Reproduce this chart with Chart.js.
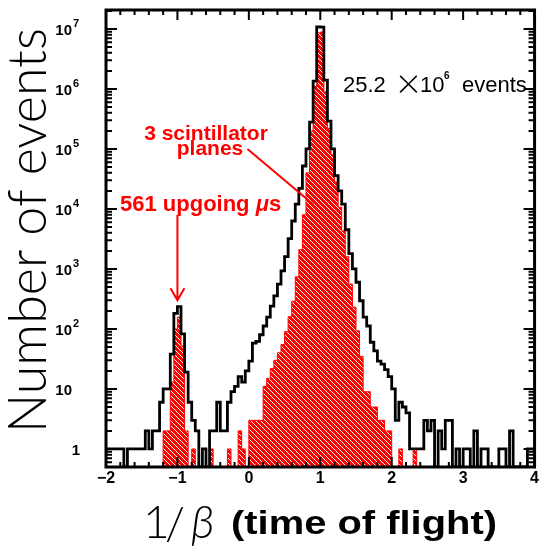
<!DOCTYPE html>
<html>
<head>
<meta charset="utf-8">
<script src="https://cdn.jsdelivr.net/npm/chart.js@4.4.1/dist/chart.umd.min.js"></script>
<style>
  html, body { margin: 0; padding: 0; background: #fff; }
  canvas { display: block; }
</style>
</head>
<body>
<canvas id="chart" width="541" height="547"></canvas>
<script>
// histogram binning of 1/beta
const BIN_LO = -2;
const BIN_WIDTH = 0.05;

// all events, one count per bin (black outline)
const allEvents = [
  1, 1, 1, 1, 1, 0, 1, 1, 1, 1,                                   // -2.00 .. -1.55
  1, 2, 1, 2, 2, 6, 10, 10, 38, 182,                              // -1.50 .. -1.05
  235, 83, 19, 6, 3, 2, 0, 1, 0, 2,                               // -1.00 .. -0.55
  2, 6, 2, 2, 6, 9, 11, 16, 13, 20,                               // -0.50 .. -0.05
  29, 58, 62, 80, 112, 158, 240, 355, 560, 930,                   //  0.00 ..  0.45
  1600, 3200, 6300, 12000, 22000, 52000, 100000, 280000, 1350000, 10800000, // 0.50 .. 0.95
  10700000, 1400000, 290000, 100000, 36000, 20000, 12000, 4500, 1800, 1000, // 1.00 .. 1.45
  600, 295, 158, 112, 60, 43, 29, 26, 21, 16,                     //  1.50 ..  1.95
  10, 3, 6, 5, 4, 1, 1, 1, 1, 3,                                  //  2.00 ..  2.45
  2, 3, 0, 2, 1, 3, 3, 0, 1, 0,                                   //  2.50 ..  2.95
  1, 1, 0, 2, 0, 1, 1, 0, 0, 0,                                   //  3.00 ..  3.45
  1, 1, 0, 2, 0, 0, 0, 0, 1, 1                                    //  3.50 ..  3.95
];

// events seen by 3 scintillator planes (red hatched)
const scintEvents = [
  0, 0, 0, 0, 0, 0, 0, 0, 0, 0,
  0, 0, 0, 0, 0, 0, 2, 2, 13, 100,
  157, 52, 2, 0, 1, 0, 0, 0, 0, 1,
  0, 0, 0, 0, 1, 0, 0, 2, 1, 0,
  3, 3, 3, 3, 11, 15, 22, 30, 40, 55,
  90, 160, 290, 740, 2100, 8000, 40000, 200000, 1100000, 8600000,
  8900000, 890000, 220000, 80000, 28000, 10700, 4300, 1600, 560, 230,
  93, 35, 9, 9, 5, 5, 3, 3, 2, 2,
  0, 0, 1, 0, 0, 0, 1, 0, 0, 0,
  0, 0, 0, 0, 0, 0, 0, 0, 0, 0,
  0, 0, 0, 0, 0, 0, 0, 0, 0, 0,
  0, 0, 0, 0, 0, 0, 0, 0, 0, 0
];

const xTicks = [-2, -1, 0, 1, 2, 3, 4];
const yTicks = [1, 10, 1e2, 1e3, 1e4, 1e5, 1e6, 1e7];
const yTickLabels = [['1', ''], ['10', ''], ['10', '2'], ['10', '3'], ['10', '4'], ['10', '5'], ['10', '6'], ['10', '7']];

const X_MIN = -2, X_MAX = 4;
const Y_MIN = 0.5, Y_MAX = 2.07e7;

const BOLD = "'Liberation Sans', Arial, Helvetica, sans-serif";
const LIGHT = "Lato, Roboto, 'Open Sans', sans-serif";
const RED = '#ff0000';

// bins -> points at left edges, plus the closing edge, for a stepped line
function toSteps(counts) {
  const pts = counts.map((c, i) => ({ x: +(BIN_LO + i * BIN_WIDTH).toFixed(2), y: c > 0 ? c : Y_MIN }));
  const last = counts[counts.length - 1];
  pts.push({ x: +(BIN_LO + counts.length * BIN_WIDTH).toFixed(2), y: last > 0 ? last : Y_MIN });
  return pts;
}

// red with thin white "\" lines
function makeHatch() {
  const s = 5;
  const c = document.createElement('canvas');
  c.width = s; c.height = s;
  const g = c.getContext('2d');
  g.fillStyle = RED;
  g.fillRect(0, 0, s, s);
  g.fillStyle = '#ffffff';
  for (let i = 0; i < s; i++) g.fillRect(i, i, 1, 1);
  return g.createPattern(c, 'repeat');
}

function fitText(ctx, text, font, size, width) {
  ctx.font = font(size);
  return width / ctx.measureText(text).width;
}

const decorations = {
  id: 'decorations',
  afterDatasetsDraw(chart) {
    const { ctx, chartArea: a } = chart;
    const x = chart.scales.x, y = chart.scales.y;
    ctx.save();
    ctx.strokeStyle = '#000';
    ctx.lineWidth = 2;
    ctx.beginPath();
    // x ticks, top and bottom, pointing inwards
    for (let k = 0; k <= 30; k++) {
      const px = x.getPixelForValue(X_MIN + k * 0.2);
      const len = k % 5 === 0 ? 10 : 5;
      ctx.moveTo(px, a.top); ctx.lineTo(px, a.top + len);
      ctx.moveTo(px, a.bottom); ctx.lineTo(px, a.bottom - len);
    }
    // log ticks, left and right
    for (let e = -1; e <= 7; e++) {
      for (let m = 1; m <= 9; m++) {
        const v = m * Math.pow(10, e);
        if (v < Y_MIN || v > Y_MAX) continue;
        const py = y.getPixelForValue(v);
        const len = m === 1 ? 11 : 6;
        ctx.moveTo(a.left, py); ctx.lineTo(a.left + len, py);
        ctx.moveTo(a.right, py); ctx.lineTo(a.right - len, py);
      }
    }
    ctx.stroke();
    ctx.lineWidth = 3;
    ctx.strokeRect(a.left, a.top, a.right - a.left, a.bottom - a.top);
    ctx.restore();
  },
  afterDraw(chart) {
    const { ctx, chartArea: a } = chart;
    const x = chart.scales.x, y = chart.scales.y;
    ctx.save();

    // y tick labels with raised exponents
    ctx.fillStyle = '#000';
    ctx.textBaseline = 'middle';
    yTicks.forEach((v, i) => {
      const py = y.getPixelForValue(v) + 2;
      const [base, sup] = yTickLabels[i];
      ctx.font = 'bold 15px ' + BOLD;
      ctx.textAlign = 'right';
      ctx.fillText(base, base === '1' ? a.left - 26 : a.left - 34, py);
      if (sup) {
        ctx.font = 'bold 11px ' + BOLD;
        ctx.textAlign = 'left';
        ctx.fillText(sup, a.left - 33, py - 7);
      }
    });

    // total events note
    ctx.textBaseline = 'alphabetic';
    ctx.textAlign = 'left';
    ctx.font = '22px ' + BOLD;
    ctx.fillText('25.2', 343, 92);
    ctx.fillText('10', 420, 92);
    ctx.fillText('events', 462, 92);
    ctx.font = 'bold 10px ' + BOLD;
    ctx.fillText('6', 444, 79);
    ctx.font = '300 42px ' + LIGHT;
    ctx.textAlign = 'center';
    ctx.fillText('\u00d7', 408.5, 98);

    // red annotations
    ctx.fillStyle = RED;
    ctx.strokeStyle = RED;
    ctx.font = 'bold 21px ' + BOLD;
    ctx.textAlign = 'center';
    ctx.fillText('3 scintillator', 206, 140);
    ctx.fillText('planes', 210, 155);
    ctx.textAlign = 'left';
    ctx.font = 'bold 22px ' + BOLD;
    let tx = 120;
    ctx.fillText('561 upgoing ', tx, 211);
    tx += ctx.measureText('561 upgoing ').width;
    ctx.font = 'italic bold 22px ' + BOLD;
    ctx.fillText('\u03bc', tx, 211);
    tx += ctx.measureText('\u03bc').width;
    ctx.font = 'bold 22px ' + BOLD;
    ctx.fillText('s', tx, 211);

    ctx.lineWidth = 2;
    ctx.beginPath();
    // leader to the scintillator peak
    ctx.moveTo(x.getPixelForValue(-0.02), y.getPixelForValue(1e5));
    ctx.lineTo(x.getPixelForValue(0.9), y.getPixelForValue(12000));
    // arrow to the upgoing peak
    const ax = x.getPixelForValue(-1);
    const tip = y.getPixelForValue(300);
    ctx.moveTo(ax, y.getPixelForValue(8000));
    ctx.lineTo(ax, tip);
    ctx.moveTo(ax - 7, tip - 12);
    ctx.lineTo(ax, tip);
    ctx.lineTo(ax + 7, tip - 12);
    ctx.stroke();

    // axis titles
    ctx.fillStyle = '#000';
    ctx.save();
    ctx.translate(46, 230.5);
    ctx.rotate(-Math.PI / 2);
    const yTitle = 'Number of events';
    const lightFont = s => `300 ${s}px ${LIGHT}`;
    const sx = fitText(ctx, yTitle, lightFont, 54, 405);
    ctx.scale(sx, 1);
    ctx.textAlign = 'center';
    ctx.textBaseline = 'alphabetic';
    ctx.fillText(yTitle, 0, 0);
    ctx.restore();

    ctx.textAlign = 'left';
    ctx.font = lightFont(46);
    ctx.fillText('1', 143, 538);
    ctx.fillText('/', 165, 540);
    ctx.font = 'italic 300 46px ' + LIGHT;
    ctx.fillText('\u03b2', 191, 538);

    const xTitle = '(time of flight)';
    const boldFont = s => `bold ${s}px ${BOLD}`;
    const bx = fitText(ctx, xTitle, boldFont, 34, 266);
    ctx.save();
    ctx.translate(231, 534);
    ctx.scale(bx, 1);
    ctx.fillText(xTitle, 0, 0);
    ctx.restore();

    ctx.restore();
  }
};

const ctx = document.getElementById('chart').getContext('2d');
const hatch = makeHatch();

const chart = new Chart(ctx, {
  type: 'line',
  data: {
    datasets: [
      {
        label: 'all events',
        data: toSteps(allEvents),
        borderColor: '#000',
        borderWidth: 2.8,
        stepped: 'before',
        pointRadius: 0,
        fill: false
      },
      {
        label: '3 scintillator planes',
        data: toSteps(scintEvents),
        borderColor: RED,
        borderWidth: 1,
        backgroundColor: hatch,
        stepped: 'before',
        pointRadius: 0,
        fill: 'start'
      }
    ]
  },
  options: {
    responsive: false,
    animation: false,
    layout: { padding: { left: 0, top: 10, right: 6, bottom: 0 } },
    plugins: {
      legend: { display: false },
      tooltip: { enabled: false }
    },
    scales: {
      x: {
        type: 'linear',
        min: X_MIN,
        max: X_MAX,
        afterFit: s => { s.height = 80; },
        afterBuildTicks: s => { s.ticks = xTicks.map(v => ({ value: v })); },
        grid: { display: false, drawTicks: false, tickLength: 0 },
        border: { display: false },
        ticks: {
          color: '#000',
          font: { family: BOLD, size: 16, weight: 'bold' },
          padding: 2,
          autoSkip: false,
          maxRotation: 0,
          callback: v => v < 0 ? '\u2212' + Math.abs(v) : String(v)
        }
      },
      y: {
        type: 'logarithmic',
        min: Y_MIN,
        max: Y_MAX,
        afterFit: s => { s.width = 106; },
        afterBuildTicks: s => { s.ticks = yTicks.map(v => ({ value: v })); },
        grid: { display: false, drawTicks: false, tickLength: 0 },
        border: { display: false },
        ticks: { display: false }
      }
    }
  },
  plugins: [decorations]
});
</script>
</body>
</html>
